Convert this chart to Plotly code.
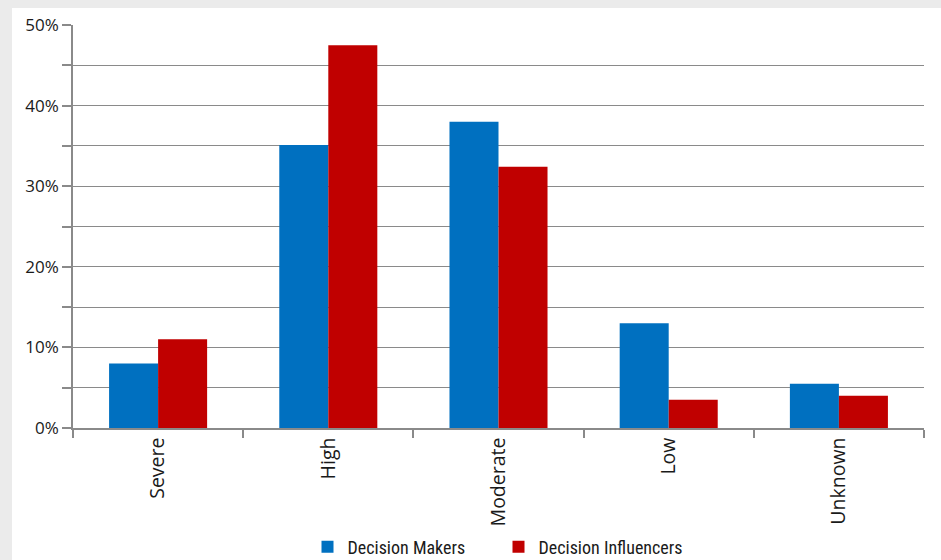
import plotly.graph_objects as go

categories = ["Severe", "High", "Moderate", "Low", "Unknown"]
decision_makers = [8.0, 35.1, 38.0, 13.0, 5.5]
decision_influencers = [11.0, 47.5, 32.4, 3.5, 4.0]
y_ticks = [0, 10, 20, 30, 40, 50]
y_tick_labels = ["0%", "10%", "20%", "30%", "40%", "50%"]

fig = go.Figure()
fig.add_trace(go.Bar(name="Decision Makers", x=categories, y=decision_makers,
                     marker=dict(color="#0070C0", line=dict(width=0))))
fig.add_trace(go.Bar(name="Decision Influencers", x=categories, y=decision_influencers,
                     marker=dict(color="#C00000", line=dict(width=0))))

L, R, T, B = 73, 17, 25, 132
W, H = 941, 560
pw, ph = W - L - R, H - T - B

def px_x(p):
    return (p - L) / pw

def px_y(p):
    return (H - B - p) / ph

fig.add_shape(type="rect", xref="paper", yref="paper",
              x0=px_x(12), x1=px_x(W + 5), y0=px_y(8), y1=px_y(H + 5),
              fillcolor="white", line=dict(width=0), layer="below")

grid = "#8a8a8a"
fig.update_layout(
    width=W, height=H,
    margin=dict(l=L, r=R, t=T, b=B, autoexpand=False),
    paper_bgcolor="#ebebeb", plot_bgcolor="rgba(0,0,0,0)",
    barmode="group", bargap=0.424, bargroupgap=0,
    font=dict(family="Open Sans, Noto Sans, sans-serif", size=16, color="#1a1a1a"),
    showlegend=True,
    legend=dict(orientation="h", x=0.5, xanchor="center", y=px_y(547), yanchor="middle",
                font=dict(family="Liberation Sans Narrow, Roboto Condensed, Roboto, sans-serif", size=18, color="#1a1a1a"),
                bgcolor="rgba(0,0,0,0)", itemwidth=30, traceorder="normal",
                entrywidth=146),
    xaxis=dict(tickangle=-90, tickson="boundaries", ticks="outside", ticklen=8,
               tickcolor=grid, tickwidth=1.5, showline=True, linecolor=grid, linewidth=1.5,
               showgrid=False, tickfont=dict(size=19.5)),
    yaxis=dict(range=[0, 50], tickvals=y_ticks, ticktext=y_tick_labels,
               ticks="outside", ticklen=9, tickcolor=grid, tickwidth=1.5,
               showline=True, linecolor=grid, linewidth=1.5,
               showgrid=True, gridcolor=grid, gridwidth=1.2, zeroline=False,
               minor=dict(dtick=5, showgrid=True, gridcolor=grid, gridwidth=1.2,
                          ticks="outside", ticklen=9, tickcolor=grid, tickwidth=1.5),
               tickfont=dict(size=17)),
)

fig.write_html("out.html", config={"displayModeBar": False},
               post_script="document.body.style.margin='0';document.body.style.padding='0';")
